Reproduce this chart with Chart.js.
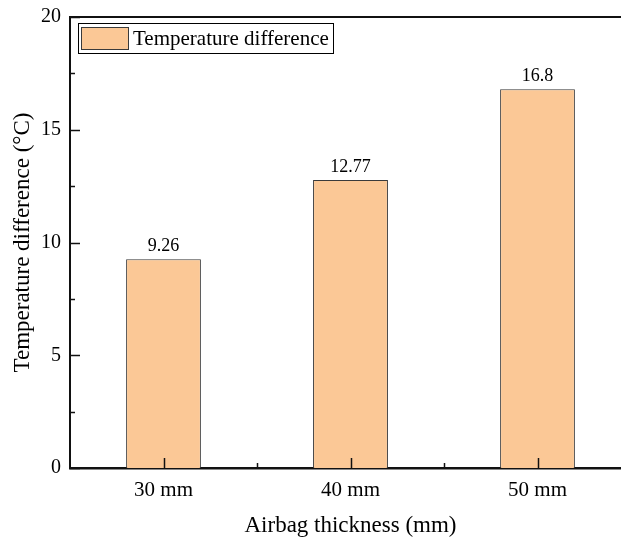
<!DOCTYPE html>
<html>
<head>
<meta charset="utf-8">
<script src="https://cdn.jsdelivr.net/npm/chart.js"></script>
<style>
  html, body { margin: 0; padding: 0; overflow: hidden; background: #fff; }
  #wrap { width: 640px; height: 541px; }
</style>
</head>
<body>
<div id="wrap"><canvas id="chart" width="640" height="541"></canvas></div>
<script>
const categories = ['30 mm', '40 mm', '50 mm'];
const tempDiff = [9.26, 12.77, 16.8];
const valueLabels = ['9.26', '12.77', '16.8'];
const yTicks = [0, 5, 10, 15, 20];

const SERIF = "'Liberation Serif', 'Times New Roman', serif";
const barFill = '#FBC896';
const barEdge = '#3a3a3a';

// ticks pointing inward, top frame line, value labels and the boxed legend
const decor = {
  id: 'decor',
  afterDatasetsDraw(chart) {
    const { ctx, chartArea: a, scales: { x, y } } = chart;
    ctx.save();
    ctx.strokeStyle = '#111';
    ctx.lineWidth = 1.5;
    // y ticks, minor halfway between majors
    for (let v = 0; v <= 20; v += 2.5) {
      const py = Math.round(y.getPixelForValue(v)) + 0.5;
      const len = yTicks.includes(v) ? 10 : 5;
      ctx.beginPath(); ctx.moveTo(a.left, py); ctx.lineTo(a.left + len, py); ctx.stroke();
    }
    // x ticks: centers major, boundaries minor
    categories.forEach((c, i) => {
      const px = Math.round(x.getPixelForValue(i)) + 0.5;
      ctx.beginPath(); ctx.moveTo(px, a.bottom); ctx.lineTo(px, a.bottom - 10); ctx.stroke();
      if (i > 0) {
        const bx = Math.round((x.getPixelForValue(i) + x.getPixelForValue(i - 1)) / 2) + 0.5;
        ctx.beginPath(); ctx.moveTo(bx, a.bottom); ctx.lineTo(bx, a.bottom - 5); ctx.stroke();
      }
    });
    // top frame
    ctx.lineWidth = 2;
    ctx.beginPath(); ctx.moveTo(a.left, a.top); ctx.lineTo(a.right, a.top); ctx.stroke();

    // value labels
    ctx.fillStyle = '#000';
    ctx.font = '18px ' + SERIF;
    ctx.textAlign = 'center';
    ctx.textBaseline = 'bottom';
    chart.getDatasetMeta(0).data.forEach((bar, i) => {
      ctx.fillText(valueLabels[i], bar.x, bar.y - 4);
    });

    // legend
    ctx.lineWidth = 1;
    ctx.strokeStyle = '#000';
    ctx.strokeRect(78.5, 23.5, 255, 30);
    ctx.fillStyle = barFill;
    ctx.fillRect(81.5, 27.5, 47, 22);
    ctx.strokeStyle = barEdge;
    ctx.strokeRect(81.5, 27.5, 47, 22);
    ctx.fillStyle = '#000';
    ctx.textAlign = 'left';
    ctx.textBaseline = 'middle';
    ctx.font = '21px ' + SERIF;
    ctx.fillText(chart.data.datasets[0].label, 133, 39);
    ctx.restore();
  }
};

new Chart(document.getElementById('chart'), {
  type: 'bar',
  data: {
    labels: categories,
    datasets: [{
      label: 'Temperature difference',
      data: tempDiff,
      backgroundColor: barFill,
      borderColor: barEdge,
      borderWidth: 1,
      barPercentage: 0.4,
      categoryPercentage: 1.0
    }]
  },
  options: {
    responsive: false,
    animation: false,
    layout: { padding: { top: 17, right: 9, left: 0, bottom: 0 } },
    plugins: { legend: { display: false }, tooltip: { enabled: false } },
    scales: {
      x: {
        grid: { display: false },
        border: { color: '#111', width: 2.5 },
        ticks: { color: '#000', font: { family: SERIF, size: 21 }, padding: 2 },
        title: { display: true, text: 'Airbag thickness (mm)', color: '#000',
                 font: { family: SERIF, size: 23 }, padding: { top: 0, bottom: 1 } },
        afterFit(s) { s.height = 73; }
      },
      y: {
        min: 0, max: 20,
        grid: { display: false },
        border: { color: '#111', width: 2 },
        ticks: { stepSize: 5, color: '#000', font: { family: SERIF, size: 20 }, padding: 1 },
        title: { display: true, text: 'Temperature difference (°C)', color: '#000',
                 font: { family: SERIF, size: 23 }, padding: { top: 9, bottom: 0 } },
        afterFit(s) { s.width = 70; }
      }
    }
  },
  plugins: [decor]
});
</script>
</body>
</html>
